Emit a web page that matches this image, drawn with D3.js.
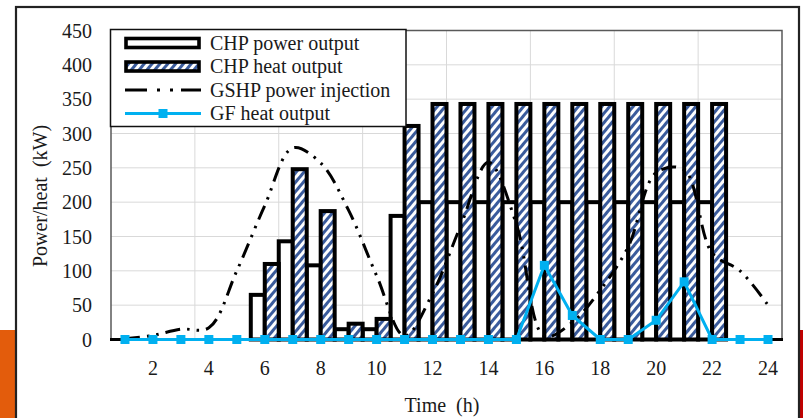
<!DOCTYPE html>
<html>
<head>
<meta charset="utf-8">
<script src="https://cdn.jsdelivr.net/npm/d3@7"></script>
<style>
  html, body { margin: 0; padding: 0; background: #fff; }
  svg { display: block; }
  text { font-family: "Liberation Serif", "Times New Roman", serif; fill: #1a1a1a; }
</style>
</head>
<body>
<svg id="chart" width="803" height="418"></svg>
<script>
// ---- data ----
const hours = [1,2,3,4,5,6,7,8,9,10,11,12,13,14,15,16,17,18,19,20,21,22,23,24];
const chpPower = [0,0,0,0,0,65,143,108,15,15,180,200,200,200,200,200,200,200,200,200,200,200,0,0];
const chpHeat  = [0,0,0,0,0,110,248,187,23,30,311,343,343,343,343,343,343,343,343,343,343,343,0,0];
const gshpPower = [1,6,15,17,100,195,279,257,188,93,5,67,165,258,168,5,25,72,135,243,247,126,100,50];
const gfHeat = [0,0,0,0,0,0,0,0,0,0,0,0,0,0,0,108,35,0,0,28,84,0,0,0];
const yTicks = [0,50,100,150,200,250,300,350,400,450];
const xTickLabels = ["2","4","6","8","10","12","14","16","18","20","22","24"];
const legendLabels = ["CHP power output","CHP heat output","GSHP power injection","GF heat output"];

// ---- layout ----
const L = 111, R = 782, T = 30.5, B = 339.5;
const svg = d3.select("#chart");
const blue = "#00b0f0";

// background decorations
svg.append("rect").attr("x",0).attr("y",330).attr("width",15).attr("height",88).attr("fill","#e35c0c");
svg.append("rect").attr("x",800).attr("y",330).attr("width",3).attr("height",88).attr("fill","#c00000");
svg.append("rect").attr("x",16).attr("y",7).attr("width",783).attr("height",430)
  .attr("fill","none").attr("stroke","#222").attr("stroke-width",2.2);

// hatch pattern
const defs = svg.append("defs");
const pat = defs.append("pattern").attr("id","hatch").attr("patternUnits","userSpaceOnUse")
  .attr("width",6).attr("height",6).attr("patternTransform","rotate(40)");
pat.append("rect").attr("width",6).attr("height",6).attr("fill","#ffffff");
pat.append("rect").attr("width",3).attr("height",6).attr("fill","#3a5b9c");

const x = d3.scaleBand().domain(hours).range([L, R]).paddingInner(0).paddingOuter(0);
const y = d3.scaleLinear().domain([0,450]).range([B, T]);
const bw = x.bandwidth();
const cx = h => x(h) + bw/2;

// gridlines
svg.append("g").selectAll("line").data(yTicks.filter(v => v > 0)).join("line")
  .attr("x1",L).attr("x2",R).attr("y1",d=>y(d)).attr("y2",d=>y(d))
  .attr("stroke","#d9d9d9").attr("stroke-width",1);
const vgrid = hours.filter(h => h % 3 === 0 && h < 24);
svg.append("g").selectAll("line").data(vgrid).join("line")
  .attr("x1",d=>x(d)+bw).attr("x2",d=>x(d)+bw).attr("y1",T).attr("y2",B)
  .attr("stroke","#d9d9d9").attr("stroke-width",1);

// plot border
svg.append("path").attr("d",`M${L},${B}V${T}H${R}V${B}`).attr("fill","none")
  .attr("stroke","#595959").attr("stroke-width",1.5);

// bars
const barStroke = 4;
svg.append("g").selectAll("rect").data(hours.filter((h,i)=>chpPower[i]>0)).join("rect")
  .attr("x",h=>x(h)).attr("width",bw/2)
  .attr("y",h=>y(chpPower[h-1])).attr("height",h=>B - y(chpPower[h-1]))
  .attr("fill","#fff").attr("stroke","#000").attr("stroke-width",barStroke);
svg.append("g").selectAll("rect").data(hours.filter((h,i)=>chpHeat[i]>0)).join("rect")
  .attr("x",h=>x(h)+bw/2).attr("width",bw/2)
  .attr("y",h=>y(chpHeat[h-1])).attr("height",h=>B - y(chpHeat[h-1]))
  .attr("fill","url(#hatch)").attr("stroke","#000").attr("stroke-width",barStroke);

// x axis line
svg.append("line").attr("x1",L-1).attr("x2",R+1).attr("y1",B).attr("y2",B)
  .attr("stroke","#000").attr("stroke-width",3);

// GSHP line
const gshpLine = d3.line().x((d,i)=>cx(hours[i])).y(d=>y(d)).curve(d3.curveCatmullRom.alpha(0.5));
svg.append("path").attr("d",gshpLine(gshpPower)).attr("fill","none")
  .attr("stroke","#000").attr("stroke-width",3).attr("stroke-dasharray","15,7,2.5,7,2.5,7");

// GF line
const gfLine = d3.line().x((d,i)=>cx(hours[i])).y(d=>y(d));
svg.append("path").attr("d",gfLine(gfHeat)).attr("fill","none")
  .attr("stroke",blue).attr("stroke-width",3);
svg.append("g").selectAll("rect").data(gfHeat).join("rect")
  .attr("x",(d,i)=>cx(hours[i])-4.5).attr("y",d=>y(d)-4.5)
  .attr("width",9).attr("height",9).attr("fill",blue);

// y tick labels
svg.append("g").selectAll("text").data(yTicks).join("text")
  .attr("x",92).attr("y",d=>y(d)).attr("dy","0.35em").attr("text-anchor","end")
  .attr("font-size",20).text(d=>d);

// x tick labels
svg.append("g").selectAll("text").data(xTickLabels).join("text")
  .attr("x",d=>cx(+d)).attr("y",368).attr("dy","0.35em").attr("text-anchor","middle")
  .attr("font-size",20).text(d=>d);

// axis titles
svg.append("text").attr("transform","translate(40,196) rotate(-90)")
  .attr("text-anchor","middle").attr("dy","0.35em").attr("font-size",20)
  .attr("xml:space","preserve").text("Power/heat  (kW)");
svg.append("text").attr("x",442).attr("y",405).attr("dy","0.35em")
  .attr("text-anchor","middle").attr("font-size",20)
  .attr("xml:space","preserve").text("Time  (h)");

// legend
const lg = svg.append("g");
lg.append("rect").attr("x",110.5).attr("y",29.5).attr("width",295.5).attr("height",97)
  .attr("fill","#fff").attr("stroke","#111").attr("stroke-width",1.5);
const rowY = [43, 66.5, 90, 113.5];
lg.append("rect").attr("x",126).attr("y",rowY[0]-4.5).attr("width",73).attr("height",9)
  .attr("fill","#fff").attr("stroke","#000").attr("stroke-width",3.6);
lg.append("rect").attr("x",126).attr("y",rowY[1]-4.5).attr("width",73).attr("height",9)
  .attr("fill","url(#hatch)").attr("stroke","#000").attr("stroke-width",3.6);
lg.append("line").attr("x1",125).attr("x2",201).attr("y1",rowY[2]).attr("y2",rowY[2])
  .attr("stroke","#000").attr("stroke-width",3).attr("stroke-dasharray","22,10,3,10,3,8");
lg.append("line").attr("x1",125).attr("x2",201).attr("y1",rowY[3]).attr("y2",rowY[3])
  .attr("stroke",blue).attr("stroke-width",3);
lg.append("rect").attr("x",158.5).attr("y",rowY[3]-4.5).attr("width",9).attr("height",9).attr("fill",blue);
lg.selectAll("text.lab").data(legendLabels).join("text").attr("class","lab")
  .attr("x",210).attr("y",(d,i)=>rowY[i]).attr("dy","0.33em").attr("font-size",20).text(d=>d);
</script>
</body>
</html>
